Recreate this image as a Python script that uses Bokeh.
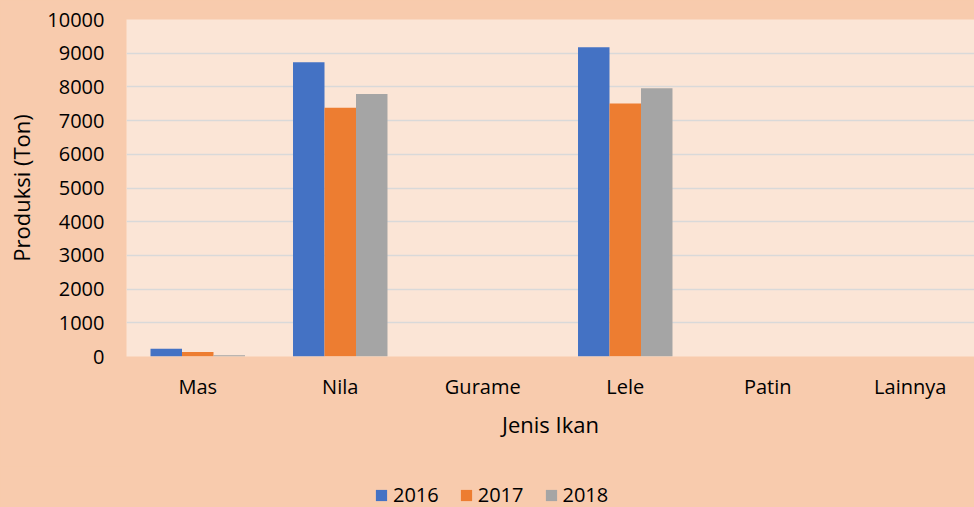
from bokeh.plotting import figure
from bokeh.models import ColumnDataSource, Range1d, Legend, LegendItem, FixedTicker
from bokeh.layouts import column
from bokeh.transform import dodge
from bokeh.embed import file_html
from bokeh.resources import INLINE

categories = ["Mas", "Nila", "Gurame", "Lele", "Patin", "Lainnya"]
years = ["2016", "2017", "2018"]
y2016 = [230, 8730, 0, 9180, 0, 0]
y2017 = [130, 7380, 0, 7510, 0, 0]
y2018 = [40, 7790, 0, 7960, 0, 0]
y_ticks = [0, 1000, 2000, 3000, 4000, 5000, 6000, 7000, 8000, 9000, 10000]

colors = ["#4472C4", "#ED7D31", "#A5A5A5"]
FONT = "Open Sans"
OUTER = "#F8CBAD"
INNER = "#FBE5D6"

src = ColumnDataSource(dict(x=list(range(len(categories))), y2016=y2016, y2017=y2017, y2018=y2018))

W = 974
H1, H2 = 466, 41
left, top = 126, 19
frame_w = W - left
p = figure(width=W, height=H1, output_backend="svg", toolbar_location=None,
           x_range=Range1d(-0.5, -0.5 + frame_w / 142.5), y_range=Range1d(0, 10000),
           min_border_left=left, min_border_right=0, min_border_top=top,
           min_border_bottom=H1 - top - 337, styles={"background-color": OUTER})
p.frame_width = frame_w
p.frame_height = 337

p.background_fill_color = INNER
p.border_fill_color = OUTER
p.outline_line_color = None

bw = 0.221
bar_style = dict(width=bw, bottom=0, source=src, line_color=None)
for i, (yr, col) in enumerate(zip(years, colors)):
    p.vbar(x=dodge("x", (i - 1) * bw, range=p.x_range), top="y" + yr, fill_color=col, **bar_style)

p.xaxis.ticker = FixedTicker(ticks=list(range(len(categories))))
p.xaxis.major_label_overrides = {i: c for i, c in enumerate(categories)}
p.yaxis.ticker = FixedTicker(ticks=y_ticks)

for ax in (p.xaxis, p.yaxis):
    ax.axis_line_color = None
    ax.major_tick_line_color = None
    ax.minor_tick_line_color = None
    ax.major_tick_in = 0
    ax.major_tick_out = 0
    ax.major_label_text_font = FONT
    ax.major_label_text_font_size = "20px"
    ax.major_label_text_color = "#000000"
    ax.axis_label_text_font = FONT
    ax.axis_label_text_font_size = "22px"
    ax.axis_label_text_font_style = "normal"
    ax.axis_label_text_color = "#000000"

p.xaxis.axis_label = "Jenis Ikan"
p.yaxis.axis_label = "Produksi (Ton)"
p.yaxis.major_label_standoff = 22
p.yaxis.axis_label_standoff = 8
p.xaxis.major_label_standoff = 16
p.xaxis.axis_label_standoff = 6

p.xgrid.grid_line_color = None
p.ygrid.grid_line_color = "#D9D9D9"
p.ygrid.grid_line_width = 1.5

# legend strip below the chart (same series, drawn out of view so only the legend shows)
p2 = figure(width=W, height=H2, output_backend="svg", toolbar_location=None,
            x_range=Range1d(-0.5, 5.5), y_range=Range1d(20000, 30000),
            x_axis_location=None, y_axis_location=None,
            min_border_left=0, min_border_right=0, min_border_top=0, min_border_bottom=0,
            styles={"background-color": OUTER})
p2.background_fill_color = None
p2.border_fill_color = OUTER
p2.outline_line_color = None
p2.xgrid.visible = False
p2.ygrid.visible = False
leg_renderers = []
for i, (yr, col) in enumerate(zip(years, colors)):
    r = p2.vbar(x=dodge("x", (i - 1) * bw, range=p2.x_range), top="y" + yr, fill_color=col, **bar_style)
    leg_renderers.append(r)

legend = Legend(items=[LegendItem(label=y, renderers=[r]) for y, r in zip(years, leg_renderers)],
                orientation="horizontal", location=(248, -1),
                glyph_width=14, glyph_height=14, label_standoff=5, spacing=20,
                padding=0, margin=0, border_line_color=None, background_fill_alpha=0,
                label_text_font=FONT, label_text_font_size="20px", label_text_color="#000000")
p2.add_layout(legend, "center")

layout = column(p, p2, spacing=0, styles={"background-color": OUTER})
open("out.html", "w").write(file_html(layout, INLINE))
